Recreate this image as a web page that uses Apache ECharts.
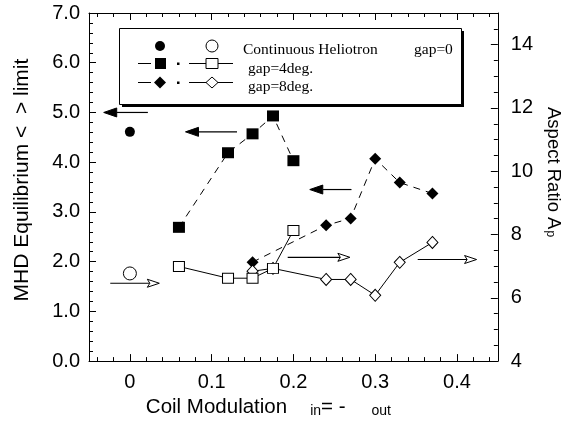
<!DOCTYPE html>
<html>
<head>
<meta charset="utf-8">
<script src="https://cdn.jsdelivr.net/npm/echarts@6/dist/echarts.min.js"></script>
<style>
html, body { margin: 0; padding: 0; background: #fff; }
#main { width: 571px; height: 423px; }
</style>
</head>
<body>
<div id="main"></div>
<script>
// continuous heliotron (gap=0)
const contX = [0]
const contBeta = [4.61]
const contAspect = [6.77]

// gap = 4 deg.
const gap4X = [0.06, 0.12, 0.15, 0.175, 0.2]
const gap4Beta = [2.69, 4.19, 4.57, 4.93, 4.03]
const gap4Aspect = [6.99, 6.62, 6.62, 6.93, 8.13]

// gap = 8 deg.
const gap8X = [0.15, 0.24, 0.27, 0.3, 0.33, 0.37]
const gap8Beta = [1.99, 2.73, 2.87, 4.07, 3.59, 3.37]
const gap8AspectX = [0.15, 0.175, 0.24, 0.27, 0.3, 0.33, 0.37]
const gap8Aspect = [6.84, 6.93, 6.58, 6.58, 6.08, 7.12, 7.75]

// arrows pointing to the axis each group belongs to: [from x, to x, y]
const betaArrows = [[0.022, -0.032, 5.0], [0.131, 0.068, 4.61], [0.271, 0.22, 3.45]]
const aspectArrows = [[-0.024, 0.036, 6.46], [0.193, 0.269, 7.28], [0.352, 0.424, 7.21]]

// axes
const xRange = [-0.05, 0.45]
const xTickLabels = ['0', '0.1', '0.2', '0.3', '0.4']
const betaRange = [0, 7]
const aspectRange = [4, 15]

const pts = (xs, ys) => xs.map((x, i) => [x, ys[i]])
const font = 'Liberation Sans'

function arrowItem (open) {
  return function (params, api) {
    const a = api.coord([api.value(0), api.value(2)])
    const b = api.coord([api.value(1), api.value(2)])
    const d = b[0] > a[0] ? 1 : -1
    const len = open ? 12 : 13
    const half = open ? 4 : 4.5
    const base = b[0] - d * len
    const head = open
      ? [[b[0], b[1]], [base, b[1] - half], [base + d * 2.5, b[1]], [base, b[1] + half]]
      : [[b[0], b[1]], [base, b[1] - half], [base, b[1] + half]]
    return {
      type: 'group',
      children: [
        { type: 'line', shape: { x1: a[0], y1: a[1], x2: open ? base + d * 2.5 : base, y2: b[1] }, style: { stroke: '#000', lineWidth: 1.2 } },
        { type: 'polygon', shape: { points: head }, style: { fill: open ? '#fff' : '#000', stroke: '#000', lineWidth: 1 } }
      ]
    }
  }
}

const axisCommon = {
  axisLine: { onZero: false, lineStyle: { color: '#000', width: 1 } },
  axisTick: { inside: true, length: 7, lineStyle: { color: '#000' } },
  minorTick: { show: true, length: 4, lineStyle: { color: '#000' } },
  splitLine: { show: false },
  minorSplitLine: { show: false }
}

const myChart = echarts.init(document.getElementById('main'))
const option = {
  animation: false,
  backgroundColor: '#fff',
  grid: { left: 89, right: 72, top: 13, bottom: 61 },
  xAxis: [
    {
      ...axisCommon,
      type: 'value',
      min: xRange[0],
      max: xRange[1],
      splitNumber: 5,
      minorTick: { show: true, splitNumber: 5, length: 4, lineStyle: { color: '#000' } },
      axisLabel: {
        margin: 11,
        color: '#000',
        fontFamily: font,
        fontSize: 20,
        formatter: v => {
          const k = Math.round(v * 10)
          return Math.abs(v * 10 - k) < 1e-6 && xTickLabels[k] !== undefined ? xTickLabels[k] : ''
        }
      },
      name: '{a|Coil Modulation}{g|}{s|in}{a|= -}{h|}{s|out}',
      nameLocation: 'middle',
      nameGap: 33,
      nameTextStyle: {
        padding: [0, 50, 0, 0],
        rich: {
          a: { fontFamily: font, fontSize: 20.5, color: '#000', verticalAlign: 'bottom' },
          s: { fontFamily: font, fontSize: 14, color: '#000', verticalAlign: 'bottom' },
          g: { width: 23 },
          h: { width: 26 }
        }
      }
    },
    {
      ...axisCommon,
      type: 'value',
      position: 'top',
      min: xRange[0],
      max: xRange[1],
      splitNumber: 5,
      minorTick: { show: true, splitNumber: 5, length: 4, lineStyle: { color: '#000' } },
      axisLabel: { show: false }
    }
  ],
  yAxis: [
    {
      ...axisCommon,
      type: 'value',
      min: betaRange[0],
      max: betaRange[1],
      interval: 1,
      minorTick: { show: true, splitNumber: 5, length: 4, lineStyle: { color: '#000' } },
      axisLabel: { margin: 9, color: '#000', fontFamily: font, fontSize: 20, formatter: v => v.toFixed(1) },
      name: 'MHD Equilibrium <  > limit',
      nameLocation: 'middle',
      nameGap: 56,
      nameTextStyle: { fontFamily: font, fontSize: 21, color: '#000', padding: [0, 0, 0, 14] }
    },
    {
      ...axisCommon,
      type: 'value',
      position: 'right',
      min: aspectRange[0],
      max: aspectRange[1],
      interval: 2,
      minorTick: { show: true, splitNumber: 4, length: 4, lineStyle: { color: '#000' } },
      axisLabel: { margin: 13, color: '#000', fontFamily: font, fontSize: 20, showMaxLabel: false },
      name: '{a|Aspect Ratio A}{s|p}',
      nameLocation: 'middle',
      nameRotate: -90,
      nameGap: 45,
      nameTextStyle: {
        padding: [0, 30, 0, 0],
        rich: {
          a: { fontFamily: font, fontSize: 18.5, color: '#000', verticalAlign: 'bottom' },
          s: { fontFamily: font, fontSize: 12, color: '#000', verticalAlign: 'bottom', padding: [0, 0, 0, 1] }
        }
      }
    }
  ],
  graphic: [
    { type: 'rect', z: 50, shape: { x: 122, y: 31, width: 342, height: 76 }, style: { fill: '#000' } },
    { type: 'rect', z: 51, shape: { x: 119.5, y: 28.5, width: 342, height: 76 }, style: { fill: '#fff', stroke: '#000', lineWidth: 1 } },
    { type: 'circle', z: 52, shape: { cx: 160, cy: 46, r: 5 }, style: { fill: '#000' } },
    { type: 'circle', z: 52, shape: { cx: 212, cy: 46, r: 6 }, style: { fill: '#fff', stroke: '#000', lineWidth: 1 } },
    { type: 'line', z: 52, shape: { x1: 138, y1: 63.5, x2: 151, y2: 63.5 }, style: { stroke: '#000', lineWidth: 1 } },
    { type: 'rect', z: 52, shape: { x: 155, y: 58, width: 11, height: 11 }, style: { fill: '#000' } },
    { type: 'rect', z: 52, shape: { x: 177, y: 62.5, width: 2.5, height: 2.5 }, style: { fill: '#000' } },
    { type: 'line', z: 52, shape: { x1: 189, y1: 63.5, x2: 233, y2: 63.5 }, style: { stroke: '#000', lineWidth: 1 } },
    { type: 'rect', z: 53, shape: { x: 206, y: 58.5, width: 12, height: 10 }, style: { fill: '#fff', stroke: '#000', lineWidth: 1 } },
    { type: 'line', z: 52, shape: { x1: 138, y1: 82.5, x2: 151, y2: 82.5 }, style: { stroke: '#000', lineWidth: 1 } },
    { type: 'polygon', z: 52, shape: { points: [[160, 76.5], [166, 82.5], [160, 88.5], [154, 82.5]] }, style: { fill: '#000' } },
    { type: 'rect', z: 52, shape: { x: 177, y: 81.5, width: 2.5, height: 2.5 }, style: { fill: '#000' } },
    { type: 'line', z: 52, shape: { x1: 189, y1: 82.5, x2: 233, y2: 82.5 }, style: { stroke: '#000', lineWidth: 1 } },
    { type: 'polygon', z: 53, shape: { points: [[212, 77], [218, 82.5], [212, 88], [206, 82.5]] }, style: { fill: '#fff', stroke: '#000', lineWidth: 1 } },
    { type: 'text', z: 52, x: 243, y: 50, style: { text: 'Continuous Heliotron', fontFamily: 'Liberation Serif', fontSize: 15.5, fill: '#000', verticalAlign: 'middle' } },
    { type: 'text', z: 52, x: 414, y: 50, style: { text: 'gap=0', fontFamily: 'Liberation Serif', fontSize: 15.5, fill: '#000', verticalAlign: 'middle' } },
    { type: 'text', z: 52, x: 248, y: 69, style: { text: 'gap=4deg.', fontFamily: 'Liberation Serif', fontSize: 15.5, fill: '#000', verticalAlign: 'middle' } },
    { type: 'text', z: 52, x: 248, y: 87, style: { text: 'gap=8deg.', fontFamily: 'Liberation Serif', fontSize: 15.5, fill: '#000', verticalAlign: 'middle' } }
  ],
  series: [
    {
      name: 'beta arrows',
      type: 'custom',
      xAxisIndex: 0,
      yAxisIndex: 0,
      encode: { x: [0, 1], y: 2 },
      renderItem: arrowItem(false),
      data: betaArrows
    },
    {
      name: 'aspect arrows',
      type: 'custom',
      xAxisIndex: 0,
      yAxisIndex: 1,
      encode: { x: [0, 1], y: 2 },
      renderItem: arrowItem(true),
      data: aspectArrows
    },
    {
      name: 'gap=8deg. beta',
      type: 'line',
      yAxisIndex: 0,
      symbol: 'diamond',
      symbolSize: 12,
      lineStyle: { color: '#000', width: 1, type: [7, 6] },
      itemStyle: { color: '#000', opacity: 1 },
      data: pts(gap8X, gap8Beta)
    },
    {
      name: 'gap=4deg. beta',
      type: 'line',
      yAxisIndex: 0,
      symbol: 'rect',
      symbolSize: [12, 11],
      lineStyle: { color: '#000', width: 1, type: [7, 6] },
      itemStyle: { color: '#000', opacity: 1 },
      data: pts(gap4X, gap4Beta)
    },
    {
      name: 'gap=0 beta',
      type: 'scatter',
      yAxisIndex: 0,
      symbol: 'circle',
      symbolSize: 10,
      itemStyle: { color: '#000', opacity: 1 },
      data: pts(contX, contBeta)
    },
    {
      name: 'gap=0 aspect',
      type: 'scatter',
      yAxisIndex: 1,
      symbol: 'circle',
      symbolSize: 13,
      itemStyle: { color: '#fff', borderColor: '#000', borderWidth: 1, opacity: 1 },
      data: pts(contX, contAspect)
    },
    {
      name: 'gap=8deg. aspect',
      type: 'line',
      yAxisIndex: 1,
      symbol: 'diamond',
      symbolSize: [11, 12],
      lineStyle: { color: '#000', width: 1 },
      itemStyle: { color: '#fff', borderColor: '#000', borderWidth: 1, opacity: 1 },
      data: pts(gap8AspectX, gap8Aspect)
    },
    {
      name: 'gap=4deg. aspect',
      type: 'line',
      yAxisIndex: 1,
      z: 5,
      symbol: 'rect',
      symbolSize: [11, 10],
      lineStyle: { color: '#000', width: 1 },
      itemStyle: { color: '#fff', borderColor: '#000', borderWidth: 1, opacity: 1 },
      data: pts(gap4X, gap4Aspect)
    }
  ]
}
option && myChart.setOption(option)
</script>
</body>
</html>
